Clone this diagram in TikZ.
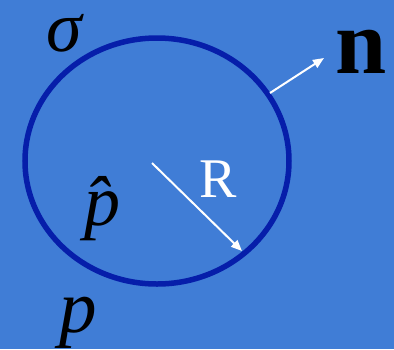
\documentclass[tikz,border=0pt]{standalone}
\usepackage{fontspec}
\setmainfont{Liberation Serif}
\usetikzlibrary{arrows.meta}
\definecolor{bgblue}{RGB}{64,125,214}
\definecolor{ringblue}{RGB}{6,30,170}
\tikzset{
  lbl/.style={inner sep=0pt, anchor=base, text=black},
  vec/.style={draw=white, line width=2pt, -{Triangle[length=11pt,width=9pt]}}
}
\begin{document}
\begin{tikzpicture}[x=1pt,y=-1pt]
\fill[bgblue] (0,0) rectangle (394,349);
\useasboundingbox (0,0) rectangle (394,349);
\draw[ringblue, line width=5.5pt] (157,161) ellipse [x radius=132, y radius=123];
\coordinate (n0) at (270,93);
\coordinate (n1) at (324,58);
\draw[vec] (n0) -- (n1);
\coordinate (r0) at (152,163);
\coordinate (r1) at (242,251);
\draw[vec] (r0) -- (r1);
\node[lbl] (sigma) at (64,51) {\fontsize{72}{72}\selectfont\itshape σ};
\node[lbl] (n) at (361,73) {\fontsize{92}{92}\selectfont\bfseries n};
\node[lbl, text=white] (R) at (218,197) {\fontsize{56}{56}\selectfont R};
\node[lbl] (phat) at (102,225) {\fontsize{72}{72}\selectfont\itshape \^{p}};
\node[lbl] (p) at (78,332) {\fontsize{75}{75}\selectfont\itshape p};
\end{tikzpicture}
\end{document}
